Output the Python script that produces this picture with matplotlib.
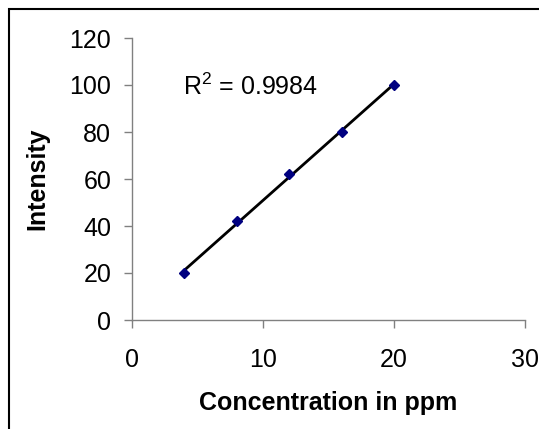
import matplotlib
matplotlib.use("Agg")
import matplotlib.pyplot as plt
from matplotlib.patches import Rectangle

# data
conc = [4, 8, 12, 16, 20]
intensity = [20, 42, 62, 80, 100]
r2_text = "R$^2$ = 0.9984"

plt.rcParams['font.family'] = ['Liberation Sans', 'DejaVu Sans']
plt.rcParams['mathtext.fontset'] = 'custom'
plt.rcParams['mathtext.rm'] = 'Liberation Sans'

W, H = 539, 429
fig = plt.figure(figsize=(W / 100, H / 100), dpi=100)
ax = fig.add_axes([132 / W, 1 - 320 / H, (525 - 132) / W, (320 - 38) / H])

# linear trendline (least squares) like Excel
n = len(conc)
mx = sum(conc) / n
my = sum(intensity) / n
sxy = sum((x - mx) * (y - my) for x, y in zip(conc, intensity))
sxx = sum((x - mx) ** 2 for x in conc)
slope = sxy / sxx
icpt = my - slope * mx
xs = [min(conc), max(conc)]
ax.plot(xs, [icpt + slope * x for x in xs], color='black', lw=2, zorder=2,
        clip_on=False)
ax.plot(conc, intensity, 'D', color='#000080', ms=5.5, zorder=3, clip_on=False)

ax.set_xlim(0, 30)
ax.set_ylim(0, 120)
ax.set_xticks([0, 10, 20, 30])
ax.set_yticks([0, 20, 40, 60, 80, 100, 120])
for s in ['top', 'right']:
    ax.spines[s].set_visible(False)
for s in ['left', 'bottom']:
    ax.spines[s].set_color('#808080')
    ax.spines[s].set_linewidth(1)
ax.tick_params(direction='out', length=6, width=1, color='#808080',
               labelsize=18, labelcolor='black')
ax.tick_params(axis='y', pad=9)
ax.tick_params(axis='x', pad=14)
ax.set_xlabel('Concentration in ppm', fontsize=18, fontweight='bold', labelpad=14)
ax.set_ylabel('Intensity', fontsize=18, fontweight='bold', labelpad=14)
ax.text(3.9, 95.7, r2_text, fontsize=18, va='baseline')

# outer frame (cropped at right and bottom in the original)
fig.patches.append(Rectangle((9 / W, -0.1), 1.2, 1.1 - 9 / H,
                             transform=fig.transFigure, fill=False,
                             edgecolor='black', lw=1.5))

fig.savefig('out.png', dpi=100)
